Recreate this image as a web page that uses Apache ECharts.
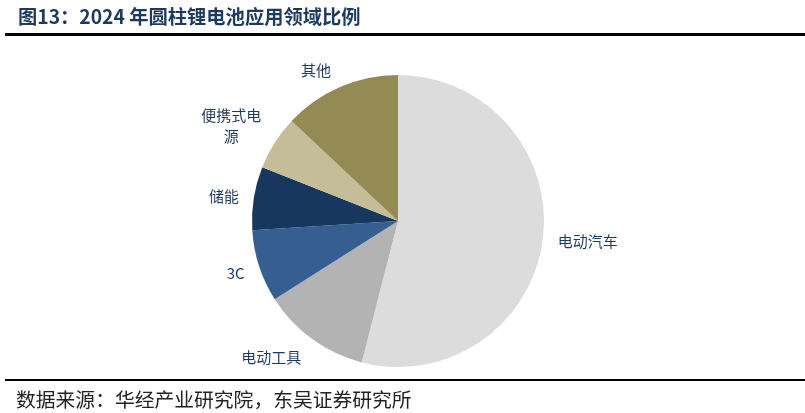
<!DOCTYPE html>
<html>
<head>
<meta charset="utf-8">
<script src="https://cdn.jsdelivr.net/npm/echarts@6/dist/echarts.min.js"></script>
<style>
html,body{margin:0;padding:0;background:#fff;}
#c{width:805px;height:413px;}
</style>
</head>
<body>
<div id="c"></div>
<script>
const titleText = '图13：2024 年圆柱锂电池应用领域比例';
const sourceText = '数据来源：华经产业研究院，东吴证券研究所';
const categories = ['电动汽车', '电动工具', '3C', '储能', '便携式电源', '其他'];
const shares = [54, 12, 8, 7, 6, 13];
const colors = ['#DCDCDC', '#B3B3B3', '#375E91', '#17375E', '#C4BD97', '#948A54'];
// small vertical nudges of label text (px), per category
const labelNudgeY = [1, 10, 4, 0, -12, -8];

const chart = echarts.init(document.getElementById('c'), null, {renderer: 'canvas'});
const cjk = '"Noto Sans CJK SC", "Noto Sans", sans-serif';
const labelStyle = {color: '#1F3A5F', fontSize: 15, fontFamily: cjk, lineHeight: 21};

chart.setOption({
  animation: false,
  backgroundColor: '#ffffff',
  graphic: [
    {type: 'text', left: 18, top: 7, style: {text: titleText, font: 'bold 19.3px ' + cjk, fill: '#1F3A5F'}},
    {type: 'rect', shape: {x: 5, y: 33, width: 800, height: 3}, style: {fill: '#000'}},
    {type: 'rect', shape: {x: 5, y: 379, width: 800, height: 2}, style: {fill: '#000'}},
    {type: 'text', left: 16, top: 390, style: {text: sourceText, font: '19.8px ' + cjk, fill: '#222'}}
  ],
  series: [{
    type: 'pie',
    center: [398, 221],
    radius: [0, 146],
    startAngle: 90,
    clockwise: true,
    avoidLabelOverlap: false,
    label: Object.assign({
      show: true,
      position: 'outside',
      formatter: p => p.name.length > 4
        ? '{c|' + p.name.slice(0, 4) + '}\n{c|' + p.name.slice(4) + '}'
        : p.name,
      rich: {c: Object.assign({align: 'center'}, labelStyle)}
    }, labelStyle),
    labelLine: {show: false, length: 10, length2: 0},
    labelLayout: p => ({dy: labelNudgeY[p.dataIndex]}),
    itemStyle: {borderWidth: 0},
    data: categories.map((n, i) => ({name: n, value: shares[i], itemStyle: {color: colors[i]}}))
  }]
});
</script>
</body>
</html>
